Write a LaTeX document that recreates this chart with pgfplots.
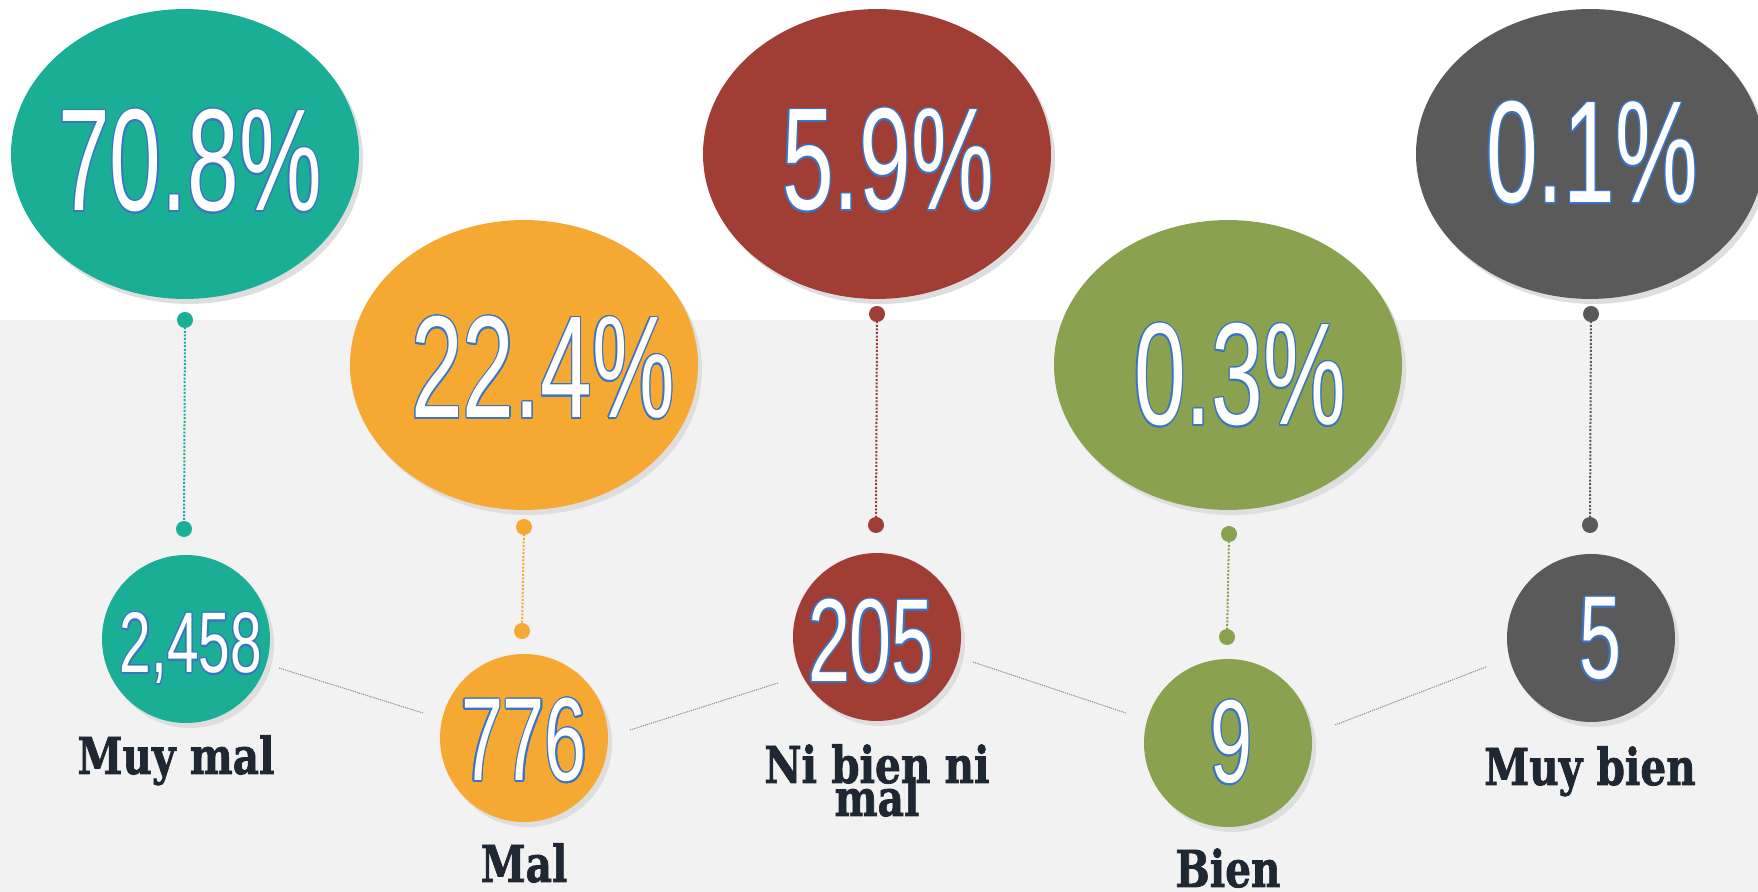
\documentclass[border=0pt]{standalone}
\usepackage{pgfplots}
\pgfplotsset{compat=1.18}
\usepackage{graphicx}
\usepackage{fontspec}
\usepackage{contour}
\setmainfont{Liberation Sans}
\newfontfamily\numfont{Liberation Sans}
\newfontfamily\labfont{DejaVu Serif Bold}[FakeBold=1.6]
\definecolor{cteal}{HTML}{1BAE97}
\definecolor{corange}{HTML}{F5A932}
\definecolor{cred}{HTML}{A03E36}
\definecolor{cgreen}{HTML}{8AA14F}
\definecolor{cgray}{HTML}{5A5A5A}
\definecolor{bggray}{HTML}{F2F2F2}
\definecolor{labcol}{HTML}{1F2733}
\definecolor{outl}{HTML}{3A74C4}
\contourlength{0.9pt}
\pgfdeclareplotmark{oval}{%
  \pgfpathellipse{\pgfpointorigin}{\pgfqpoint{\pgfplotmarksize}{0pt}}{\pgfqpoint{0pt}{0.833\pgfplotmarksize}}%
  \pgfusepathqfill}
\pgfdeclareplotmark{disc}{%
  \pgfpathcircle{\pgfpointorigin}{\pgfplotmarksize}%
  \pgfusepathqfill}
\newcommand{\pct}[1]{{\numfont\fontsize{72.6}{80}\selectfont\scalebox{0.64}[1]{\color{white}\contour{outl}{#1}}}}
\newcommand{\cnt}[1]{{\numfont\fontsize{59}{64}\selectfont\scalebox{0.64}[1]{\color{white}\contour{outl}{#1}}}}
\newcommand{\cnts}[1]{{\numfont\fontsize{43}{48}\selectfont\scalebox{0.66}[1]{\color{white}\contour{outl}{#1}}}}
\newcommand{\lab}[1]{{\labfont\fontsize{25.4}{16.5}\selectfont\color{labcol}\scalebox{0.8}[1]{#1}}}
\begin{document}
\begin{tikzpicture}
\begin{axis}[
  x=0.5pt, y=0.5pt, y dir=reverse,
  xmin=0, xmax=1758, ymin=0, ymax=892,
  hide axis, scale only axis,
  clip=true, clip marker paths=true,
]
% background
\addplot[fill=white, draw=none] coordinates {(0,0) (1758,0) (1758,892) (0,892)} -- cycle;
\addplot[fill=bggray, draw=none] coordinates {(0,320) (1758,320) (1758,892) (0,892)} -- cycle;
% shadows
\addplot[only marks, mark=oval, mark size=87pt, color=black!13] coordinates {(189,159) (528,370) (881,159) (1232,370) (1594,159)};
\addplot[only marks, mark=disc, mark size=42pt, color=black!13] coordinates {(190,644) (528,743) (881,642) (1232,748) (1595,643)};
% big ellipses (percentages)
\addplot[only marks, mark=oval, mark size=87pt, color=cteal] coordinates {(185,154)};
\addplot[only marks, mark=oval, mark size=87pt, color=corange] coordinates {(524,365)};
\addplot[only marks, mark=oval, mark size=87pt, color=cred] coordinates {(877,154)};
\addplot[only marks, mark=oval, mark size=87pt, color=cgreen] coordinates {(1228,365)};
\addplot[only marks, mark=oval, mark size=87pt, color=cgray] coordinates {(1590,154)};
% small circles (counts)
\addplot[only marks, mark=disc, mark size=42pt, color=cteal] coordinates {(186,639)};
\addplot[only marks, mark=disc, mark size=42pt, color=corange] coordinates {(524,738)};
\addplot[only marks, mark=disc, mark size=42pt, color=cred] coordinates {(877,637)};
\addplot[only marks, mark=disc, mark size=42pt, color=cgreen] coordinates {(1228,743)};
\addplot[only marks, mark=disc, mark size=42pt, color=cgray] coordinates {(1591,638)};
% vertical connectors
\addplot[cteal, line width=1pt, dash pattern=on 1pt off 0.8pt, mark=disc, mark size=4pt, mark options={solid}] coordinates {(185,320) (184,529)};
\addplot[corange, line width=1pt, dash pattern=on 1pt off 0.8pt, mark=disc, mark size=4pt, mark options={solid}] coordinates {(524,527) (522,631)};
\addplot[cred, line width=1pt, dash pattern=on 1pt off 0.8pt, mark=disc, mark size=4pt, mark options={solid}] coordinates {(877,314) (876,525)};
\addplot[cgreen, line width=1pt, dash pattern=on 1pt off 0.8pt, mark=disc, mark size=4pt, mark options={solid}] coordinates {(1229,534) (1227,637)};
\addplot[cgray, line width=1pt, dash pattern=on 1pt off 0.8pt, mark=disc, mark size=4pt, mark options={solid}] coordinates {(1591,314) (1590,525)};
% connecting lines between circles
\addplot[black!45, line width=0.5pt, dash pattern=on 0.6pt off 0.5pt] coordinates {(279,668) (423,713)};
\addplot[black!45, line width=0.5pt, dash pattern=on 0.6pt off 0.5pt] coordinates {(630,730) (778,683)};
\addplot[black!45, line width=0.5pt, dash pattern=on 0.6pt off 0.5pt] coordinates {(973,662) (1126,713)};
\addplot[black!45, line width=0.5pt, dash pattern=on 0.6pt off 0.5pt] coordinates {(1335,725) (1486,667)};
% percentages
\node[anchor=base, inner sep=0pt] at (axis cs:190,211) {\pct{70.8\%}};
\node[anchor=base, inner sep=0pt] at (axis cs:543,418) {\pct{22.4\%}};
\node[anchor=base, inner sep=0pt] at (axis cs:888,210) {\pct{5.9\%}};
\node[anchor=base, inner sep=0pt] at (axis cs:1240,425) {\pct{0.3\%}};
\node[anchor=base, inner sep=0pt] at (axis cs:1592,203) {\pct{0.1\%}};
% counts
\node[anchor=base, inner sep=0pt] at (axis cs:191,673) {\cnts{2,458}};
\node[anchor=base, inner sep=0pt] at (axis cs:524,781) {\cnt{776}};
\node[anchor=base, inner sep=0pt] at (axis cs:871,682) {\cnt{205}};
\node[anchor=base, inner sep=0pt] at (axis cs:1231,783) {\cnt{9}};
\node[anchor=base, inner sep=0pt] at (axis cs:1600,679) {\cnt{5}};
% labels
\node[anchor=base, inner sep=0pt] at (axis cs:176,774) {\lab{Muy mal}};
\node[anchor=base, inner sep=0pt] at (axis cs:524,882) {\lab{Mal}};
\node[anchor=base, inner sep=0pt] at (axis cs:877,783) {\lab{Ni bien ni}};
\node[anchor=base, inner sep=0pt] at (axis cs:877,816) {\lab{mal}};
\node[anchor=base, inner sep=0pt] at (axis cs:1228,887) {\lab{Bien}};
\node[anchor=base, inner sep=0pt] at (axis cs:1590,785) {\lab{Muy bien}};
\end{axis}
\end{tikzpicture}
\end{document}
